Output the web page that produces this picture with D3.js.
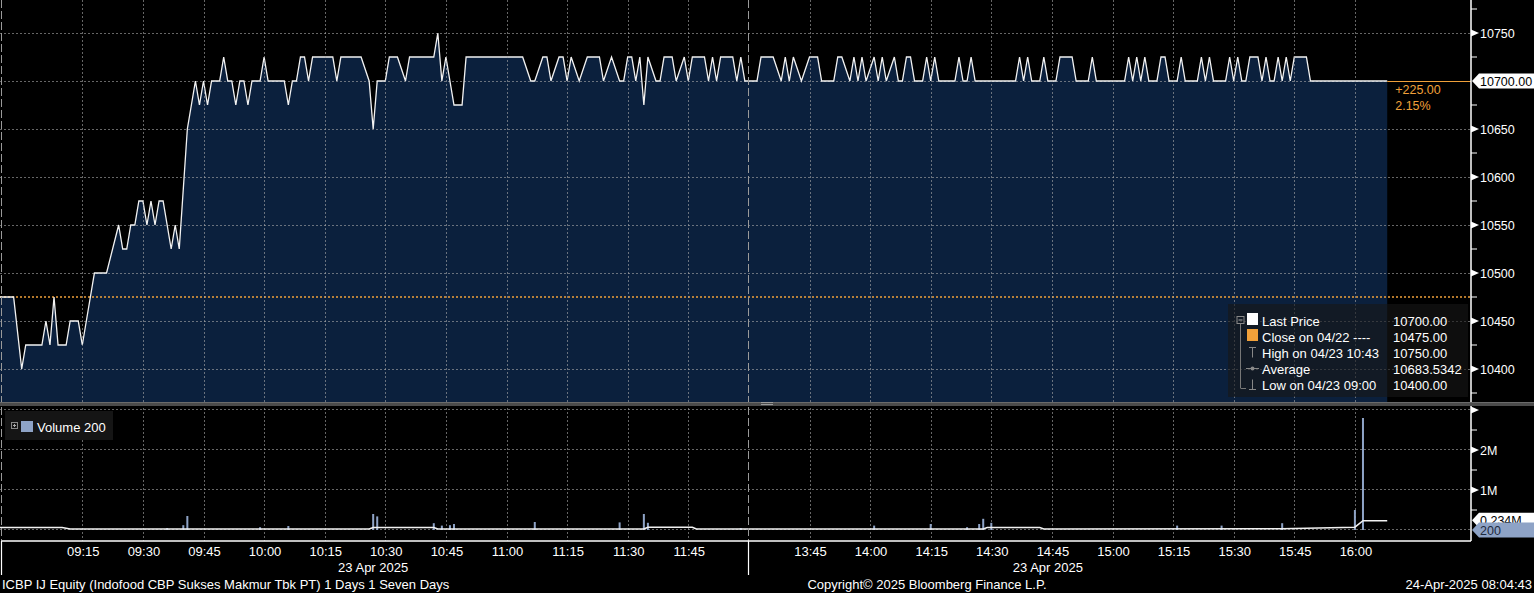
<!DOCTYPE html>
<html>
<head>
<meta charset="utf-8">
<script src="https://cdn.jsdelivr.net/npm/d3@7"></script>
<style>
  body { margin: 0; background: #000; }
  svg { display: block; }
  text { font-family: "Liberation Sans", Arial, sans-serif; }
</style>
</head>
<body>
<div class="chart"></div>
<script>
// Chart sizes
const width = 1534;
const height = 593;
const axisX = 1471;
const price = {top: 0, bottom: 402};
const vol = {top: 406, bottom: 541};

// Price line, one point for every change in the minute series (time, price)
const priceSeries = [
  ["08:54",10475],["08:58",10475],["09:00",10400],["09:01",10425],["09:05",10425],["09:06",10450],
  ["09:07",10425],["09:08",10475],["09:09",10425],["09:11",10425],["09:12",10450],["09:14",10450],
  ["09:15",10425],["09:18",10500],["09:21",10500],["09:24",10550],["09:25",10525],["09:26",10525],
  ["09:27",10550],["09:28",10550],["09:29",10575],["09:30",10575],["09:31",10550],["09:32",10575],
  ["09:33",10550],["09:34",10575],["09:35",10575],["09:37",10525],["09:38",10550],["09:39",10525],
  ["09:41",10650],["09:43",10700],["09:44",10675],["09:45",10700],["09:46",10675],["09:47",10700],
  ["09:49",10700],["09:50",10725],["09:51",10700],["09:52",10700],["09:53",10675],["09:54",10700],
  ["09:55",10700],["09:56",10675],["09:57",10700],["09:59",10700],["10:00",10725],["10:01",10700],
  ["10:05",10700],["10:06",10675],["10:07",10700],["10:08",10700],["10:09",10725],["10:10",10725],
  ["10:11",10700],["10:12",10725],["10:17",10725],["10:18",10700],["10:19",10725],["10:24",10725],
  ["10:26",10700],["10:27",10650],["10:28",10700],["10:30",10700],["10:31",10725],["10:33",10725],
  ["10:35",10700],["10:36",10725],["10:42",10725],["10:43",10750],["10:44",10700],["10:45",10725],
  ["10:47",10675],["10:49",10675],["10:50",10725],["11:04",10725],["11:06",10700],["11:07",10700],
  ["11:09",10725],["11:10",10725],["11:11",10700],["11:13",10725],["11:14",10725],["11:15",10700],
  ["11:16",10725],["11:18",10700],["11:20",10725],["11:23",10725],["11:24",10700],["11:26",10725],
  ["11:28",10700],["11:29",10700],["11:30",10725],["11:31",10725],["11:32",10700],["11:33",10725],
  ["11:34",10675],["11:35",10725],["11:37",10700],["11:38",10700],["11:39",10725],["11:41",10725],
  ["11:42",10700],["11:44",10725],["11:45",10700],["11:46",10725],["11:49",10725],["11:50",10700],
  ["11:51",10725],["11:52",10700],["11:53",10725],["11:56",10725],["11:57",10700],["11:58",10725],
  ["11:59",10700],["13:32",10700],["13:33",10725],["13:36",10725],["13:38",10700],["13:39",10725],
  ["13:40",10700],["13:41",10725],["13:43",10700],["13:45",10725],["13:47",10725],["13:48",10700],
  ["13:51",10700],["13:52",10725],["13:53",10725],["13:55",10700],["13:56",10725],["13:57",10700],
  ["13:58",10725],["13:59",10700],["14:01",10725],["14:02",10700],["14:03",10725],["14:04",10700],
  ["14:06",10725],["14:07",10700],["14:08",10700],["14:09",10725],["14:10",10725],["14:11",10700],
  ["14:13",10700],["14:14",10725],["14:15",10700],["14:16",10725],["14:17",10700],["14:21",10700],
  ["14:22",10725],["14:23",10700],["14:24",10700],["14:25",10725],["14:26",10700],["14:36",10700],
  ["14:37",10725],["14:38",10700],["14:39",10725],["14:40",10700],["14:42",10700],["14:43",10725],
  ["14:44",10700],["14:46",10700],["14:47",10725],["14:50",10725],["14:51",10700],["14:54",10700],
  ["14:55",10725],["14:56",10700],["15:03",10700],["15:04",10725],["15:05",10700],["15:06",10725],
  ["15:07",10700],["15:08",10725],["15:09",10700],["15:11",10700],["15:12",10725],["15:13",10725],
  ["15:14",10700],["15:16",10700],["15:17",10725],["15:18",10700],["15:21",10700],["15:22",10725],
  ["15:23",10700],["15:24",10725],["15:25",10700],["15:28",10700],["15:29",10725],["15:30",10700],
  ["15:31",10725],["15:32",10700],["15:33",10700],["15:34",10725],["15:36",10725],["15:37",10700],
  ["15:38",10725],["15:39",10700],["15:40",10700],["15:41",10725],["15:42",10700],["15:43",10725],
  ["15:44",10700],["15:45",10725],["15:48",10725],["15:49",10700],["16:08",10700]
];

// Volume bars (time, shares)
const volumeSeries = [
  ["09:36",50000],["09:40",120000],["09:41",350000],["09:59",70000],["10:06",100000],
  ["10:27",400000],["10:28",340000],["10:42",170000],["10:44",110000],["10:46",120000],["10:47",150000],
  ["11:07",200000],["11:28",190000],["11:34",400000],["11:35",180000],["11:58",50000],
  ["14:01",110000],["14:15",150000],["14:24",70000],["14:27",150000],["14:28",280000],["14:30",180000],
  ["15:16",110000],["15:27",110000],["15:42",170000],["16:00",500000],["16:02",2800000],["16:08",200]
];

// White line in the volume panel (time, shares)
const volumeLineSeries = [
  ["08:54",60000],["09:10",60000],["09:12",25000],["10:26",25000],["10:27",60000],["10:42",60000],
  ["10:43",25000],["11:34",25000],["11:35",70000],["11:46",70000],["11:47",25000],["14:28",25000],
  ["14:29",60000],["14:42",60000],["14:43",25000],["15:42",30000],["16:00",70000],["16:02",234000],
  ["16:08",234000]
];

const gridTimes = ["09:15","09:30","09:45","10:00","10:15","10:30","10:45","11:00","11:15","11:30","11:45",
                   "13:45","14:00","14:15","14:30","14:45","15:00","15:15","15:30","15:45","16:00"];
const sessionBreak = "13:30";
const dateLabelTimes = ["10:27","14:44"];
const dateLabel = "23 Apr 2025";

const priceTicks = [10400,10450,10500,10550,10600,10650,10700,10750];
const priceMinorTicks = [10375,10425,10475,10525,10575,10625,10675,10725,10775];
const volumeTicks = [0,1000000,2000000,3000000];
const volumeTickLabels = ["","1M","2M",""];
const volumeMinorTicks = [500000,1500000,2500000];

const prevClose = 10475;
const lastPrice = 10700;
const lastTime = "16:08";
const netChange = "+225.00";
const pctChange = "2.15%";
const lastVolume = "200";
const lastVolumeLine = "0.234M";

const legendLabels = ["Last Price","Close on 04/22 ----","High on 04/23 10:43","Average","Low on 04/23 09:00"];
const legendValues = ["10700.00","10475.00","10750.00","10683.5342","10400.00"];

const footerLeft = "ICBP IJ Equity (Indofood CBP Sukses Makmur Tbk PT) 1 Days 1 Seven Days";
const footerMid = "Copyright\u00A9 2025 Bloomberg Finance L.P.";
const footerRight = "24-Apr-2025 08:04:43";

// Colours
const navy = "#0b203d";
const orange = "#f0a03a";
const volBlue = "#8ea3c6";
const gridColor = "rgba(170,170,170,0.6)";

// Trading minutes: the lunch break (12:00-13:30) is squeezed out of the axis
function sessionMinutes(t) {
  const [h, m] = t.split(":").map(Number);
  const mins = h * 60 + m;
  return mins >= 13 * 60 + 30 ? 180 + mins - (13 * 60 + 30) : mins - 9 * 60;
}

const xScale = d3.scaleLinear().domain([0, 180]).range([21.7, 748.9]);
const yPrice = d3.scaleLinear().domain([10400, 10750]).range([369, 33]);
const yVol = d3.scaleLinear().domain([0, 3000000]).range([530, 410]);
const xT = t => xScale(sessionMinutes(t));

const svg = d3.select(".chart").append("svg")
  .attr("width", width)
  .attr("height", height)
  .style("background", "#000");

const defs = svg.append("defs");
defs.append("clipPath").attr("id", "clipPrice")
  .append("rect").attr("x", 0).attr("y", price.top).attr("width", axisX).attr("height", price.bottom - price.top);
defs.append("clipPath").attr("id", "clipVol")
  .append("rect").attr("x", 0).attr("y", vol.top).attr("width", axisX).attr("height", vol.bottom - vol.top);

// ---- price panel ----
const pricePanel = svg.append("g").attr("clip-path", "url(#clipPrice)");

const area = d3.area()
  .x(d => xT(d[0]))
  .y0(price.bottom)
  .y1(d => yPrice(d[1]));

pricePanel.append("path")
  .datum(priceSeries)
  .attr("d", area)
  .attr("fill", navy);

// grid
pricePanel.selectAll(".hgrid")
  .data(priceTicks)
  .enter()
  .append("line")
  .attr("x1", 0).attr("x2", axisX)
  .attr("y1", d => yPrice(d) + 0.5).attr("y2", d => yPrice(d) + 0.5)
  .attr("stroke", gridColor).attr("stroke-dasharray", "2,2");

svg.selectAll(".vgrid")
  .data(gridTimes)
  .enter()
  .append("line")
  .attr("x1", d => Math.round(xT(d)) + 0.5).attr("x2", d => Math.round(xT(d)) + 0.5)
  .attr("y1", 0).attr("y2", vol.bottom)
  .attr("stroke", gridColor).attr("stroke-dasharray", "2,2");

// previous close
pricePanel.append("line")
  .attr("x1", 0).attr("x2", axisX)
  .attr("y1", yPrice(prevClose)).attr("y2", yPrice(prevClose))
  .attr("stroke", orange).attr("stroke-width", 1.6).attr("stroke-dasharray", "2,2");

const line = d3.line()
  .x(d => xT(d[0]))
  .y(d => yPrice(d[1]));

pricePanel.append("path")
  .datum(priceSeries)
  .attr("d", line)
  .attr("fill", "none")
  .attr("stroke", "#f2f2f2")
  .attr("stroke-width", 1.3);

// last price runs on to the axis in orange
svg.append("line")
  .attr("x1", xT(lastTime)).attr("x2", axisX)
  .attr("y1", yPrice(lastPrice) + 0.5).attr("y2", yPrice(lastPrice) + 0.5)
  .attr("stroke", orange).attr("stroke-width", 1);

svg.append("text")
  .attr("x", xT(lastTime) + 8).attr("y", yPrice(lastPrice) + 9)
  .attr("dominant-baseline", "central")
  .attr("fill", orange).attr("font-size", 12.5)
  .text(netChange);
svg.append("text")
  .attr("x", xT(lastTime) + 8).attr("y", yPrice(lastPrice) + 25)
  .attr("dominant-baseline", "central")
  .attr("fill", orange).attr("font-size", 12.5)
  .text(pctChange);

// ---- volume panel ----
const volPanel = svg.append("g").attr("clip-path", "url(#clipVol)");

volPanel.selectAll(".vhgrid")
  .data(volumeTicks)
  .enter()
  .append("line")
  .attr("x1", 0).attr("x2", axisX)
  .attr("y1", d => yVol(d) - 0.5).attr("y2", d => yVol(d) - 0.5)
  .attr("stroke", gridColor).attr("stroke-dasharray", "2,2");

volPanel.selectAll(".bar")
  .data(volumeSeries)
  .enter()
  .append("rect")
  .attr("x", d => xT(d[0]) - 1)
  .attr("width", 2)
  .attr("y", d => yVol(d[1]))
  .attr("height", d => yVol(0) - yVol(d[1]))
  .attr("fill", volBlue);

const volLine = d3.line()
  .x(d => xT(d[0]))
  .y(d => yVol(d[1]));

volPanel.append("path")
  .datum(volumeLineSeries)
  .attr("d", volLine)
  .attr("fill", "none")
  .attr("stroke", "#f2f2f2")
  .attr("stroke-width", 1.5);

// day start and lunch break markers
[0, sessionMinutes(sessionBreak)].forEach(function(m) {
  const x = m === 0 ? 1.5 : Math.round(xScale(m)) - 0.5;
  svg.append("line")
    .attr("x1", x).attr("x2", x).attr("y1", 0).attr("y2", vol.bottom)
    .attr("stroke", "#9a9a9a").attr("stroke-dasharray", "8,3");
  svg.append("line")
    .attr("x1", x).attr("x2", x).attr("y1", vol.bottom).attr("y2", 575)
    .attr("stroke", "#fff").attr("stroke-width", 1.2);
});

// panel separator
svg.append("rect")
  .attr("x", 0).attr("y", price.bottom).attr("width", width).attr("height", 4)
  .attr("fill", "#4b4b4b");
svg.append("line").attr("x1", 0).attr("x2", width).attr("y1", price.bottom + 0.5).attr("y2", price.bottom + 0.5)
  .attr("stroke", "#6a6a6a");
[402.5, 404.5].forEach(function(y) {
  svg.append("line").attr("x1", 761).attr("x2", 773).attr("y1", y).attr("y2", y)
    .attr("stroke", "#9a9a9a");
});

// bottom axis
svg.append("line")
  .attr("x1", 1.5).attr("x2", axisX).attr("y1", vol.bottom).attr("y2", vol.bottom)
  .attr("stroke", "#fff").attr("stroke-width", 1.5);

svg.selectAll(".xlabel")
  .data(gridTimes)
  .enter()
  .append("text")
  .attr("x", d => xT(d) + 1)
  .attr("y", 551)
  .attr("text-anchor", "middle")
  .attr("dominant-baseline", "central")
  .attr("fill", "#fff").attr("font-size", 13)
  .text(d => d);

svg.selectAll(".datelabel")
  .data(dateLabelTimes)
  .enter()
  .append("text")
  .attr("x", d => xT(d))
  .attr("y", 567)
  .attr("text-anchor", "middle")
  .attr("dominant-baseline", "central")
  .attr("fill", "#fff").attr("font-size", 13)
  .text(dateLabel);

// ---- right axes ----
svg.append("line")
  .attr("x1", axisX).attr("x2", axisX).attr("y1", price.top).attr("y2", price.bottom)
  .attr("stroke", "#fff").attr("stroke-width", 1.5);
svg.append("line")
  .attr("x1", axisX).attr("x2", axisX).attr("y1", vol.top).attr("y2", vol.bottom)
  .attr("stroke", "#fff").attr("stroke-width", 1.5);

svg.selectAll(".pminor")
  .data(priceMinorTicks)
  .enter()
  .append("line")
  .attr("x1", axisX).attr("x2", axisX + 6)
  .attr("y1", d => yPrice(d)).attr("y2", d => yPrice(d))
  .attr("stroke", "#fff");

const majorPrice = priceTicks.filter(d => d !== lastPrice);
svg.selectAll(".parrow")
  .data(majorPrice)
  .enter()
  .append("path")
  .attr("d", d => `M${axisX},${yPrice(d) - 3.5}L${axisX + 8},${yPrice(d)}L${axisX},${yPrice(d) + 3.5}Z`)
  .attr("fill", "#fff");
svg.selectAll(".plabel")
  .data(majorPrice)
  .enter()
  .append("text")
  .attr("x", axisX + 9).attr("y", d => yPrice(d) + 1)
  .attr("dominant-baseline", "central")
  .attr("fill", "#fff").attr("font-size", 12.5)
  .text(d => d);

svg.selectAll(".vminor")
  .data(volumeMinorTicks)
  .enter()
  .append("line")
  .attr("x1", axisX).attr("x2", axisX + 6)
  .attr("y1", d => yVol(d)).attr("y2", d => yVol(d))
  .attr("stroke", "#fff");

const majorVol = volumeTicks.filter(d => d > 0);
svg.selectAll(".varrow")
  .data(majorVol)
  .enter()
  .append("path")
  .attr("d", d => `M${axisX},${yVol(d) - 3.5}L${axisX + 8},${yVol(d)}L${axisX},${yVol(d) + 3.5}Z`)
  .attr("fill", "#fff");
svg.selectAll(".vlabel")
  .data(majorVol)
  .enter()
  .append("text")
  .attr("x", axisX + 9).attr("y", d => yVol(d) + 1)
  .attr("dominant-baseline", "central")
  .attr("fill", "#fff").attr("font-size", 12.5)
  .text((d, i) => volumeTickLabels[volumeTicks.indexOf(d)]);

// value flags on the axes
function flag(y, fill, textFill, label) {
  svg.append("path")
    .attr("d", `M${axisX + 1},${y}L${axisX + 8},${y - 7.5}L${width},${y - 7.5}L${width},${y + 7.5}L${axisX + 8},${y + 7.5}Z`)
    .attr("fill", fill);
  svg.append("text")
    .attr("x", axisX + 9).attr("y", y + 1)
    .attr("dominant-baseline", "central")
    .attr("fill", textFill).attr("font-size", 12.5)
    .text(label);
}
flag(yPrice(lastPrice), "#fff", "#000", legendValues[0]);
flag(yVol(234000) - 0.5, "#fff", "#000", lastVolumeLine);
flag(yVol(200), volBlue, "#1e2a3e", lastVolume);

// ---- legends ----
const legend = svg.append("g");
legend.append("rect")
  .attr("x", 1228).attr("y", 304).attr("width", 240).attr("height", 93)
  .attr("fill", "rgba(22,22,22,0.62)");

const rowY = i => 320.5 + i * 16;
legend.append("line").attr("x1", 1240.5).attr("x2", 1240.5).attr("y1", 324).attr("y2", rowY(4) + 4)
  .attr("stroke", "#777");
legend.append("rect").attr("x", 1237).attr("y", 316.5).attr("width", 7).attr("height", 7)
  .attr("fill", "none").attr("stroke", "#888");
legend.append("line").attr("x1", 1238.5).attr("x2", 1242.5).attr("y1", 320).attr("y2", 320).attr("stroke", "#aaa");
legend.append("rect").attr("x", 1247).attr("y", 313).attr("width", 11).attr("height", 12).attr("fill", "#fff");
legend.append("rect").attr("x", 1247).attr("y", 329).attr("width", 11).attr("height", 12).attr("fill", orange);
// high / average / low markers
legend.append("path")
  .attr("d", `M1249,${rowY(2) - 5}H1256M1252.5,${rowY(2) - 5}V${rowY(2) + 5}`)
  .attr("stroke", "#888").attr("fill", "none");
legend.append("path")
  .attr("d", `M1246,${rowY(3)}H1259`)
  .attr("stroke", "#888");
legend.append("circle").attr("cx", 1252.5).attr("cy", rowY(3)).attr("r", 2)
  .attr("fill", "#888");
legend.append("path")
  .attr("d", `M1252.5,${rowY(4) - 5}V${rowY(4) + 5}M1249,${rowY(4) + 5}H1256`)
  .attr("stroke", "#888").attr("fill", "none");
legend.append("path")
  .attr("d", `M1241,${rowY(4) + 4}H1246`)
  .attr("stroke", "#777");

legend.selectAll(".ltext")
  .data(legendLabels)
  .enter()
  .append("text")
  .attr("x", 1262).attr("y", (d, i) => rowY(i) + 1)
  .attr("dominant-baseline", "central")
  .attr("fill", "#fff").attr("font-size", 13)
  .text(d => d);
legend.selectAll(".lval")
  .data(legendValues)
  .enter()
  .append("text")
  .attr("x", 1393).attr("y", (d, i) => rowY(i) + 1)
  .attr("dominant-baseline", "central")
  .attr("fill", "#fff").attr("font-size", 13)
  .text(d => d);

const vlegend = svg.append("g");
vlegend.append("rect").attr("x", 5).attr("y", 411).attr("width", 108).attr("height", 29)
  .attr("fill", "#151515");
vlegend.append("rect").attr("x", 11.5).attr("y", 422.5).attr("width", 6).attr("height", 6)
  .attr("fill", "none").attr("stroke", "#888");
vlegend.append("path").attr("d", "M13,425.5H16M14.5,424V427").attr("stroke", "#aaa");
vlegend.append("rect").attr("x", 21).attr("y", 421).attr("width", 12).attr("height", 11).attr("fill", volBlue);
vlegend.append("text")
  .attr("x", 37).attr("y", 427)
  .attr("dominant-baseline", "central")
  .attr("fill", "#fff").attr("font-size", 13)
  .text("Volume " + lastVolume);

// ---- footer ----
svg.append("text").attr("x", 2).attr("y", 584).attr("dominant-baseline", "central")
  .attr("fill", "#fff").attr("font-size", 13).text(footerLeft);
svg.append("text").attr("x", 927).attr("y", 584).attr("dominant-baseline", "central")
  .attr("text-anchor", "middle")
  .attr("fill", "#fff").attr("font-size", 13).text(footerMid);
svg.append("text").attr("x", 1532).attr("y", 584).attr("dominant-baseline", "central")
  .attr("text-anchor", "end")
  .attr("fill", "#fff").attr("font-size", 13).text(footerRight);
</script>
</body>
</html>
